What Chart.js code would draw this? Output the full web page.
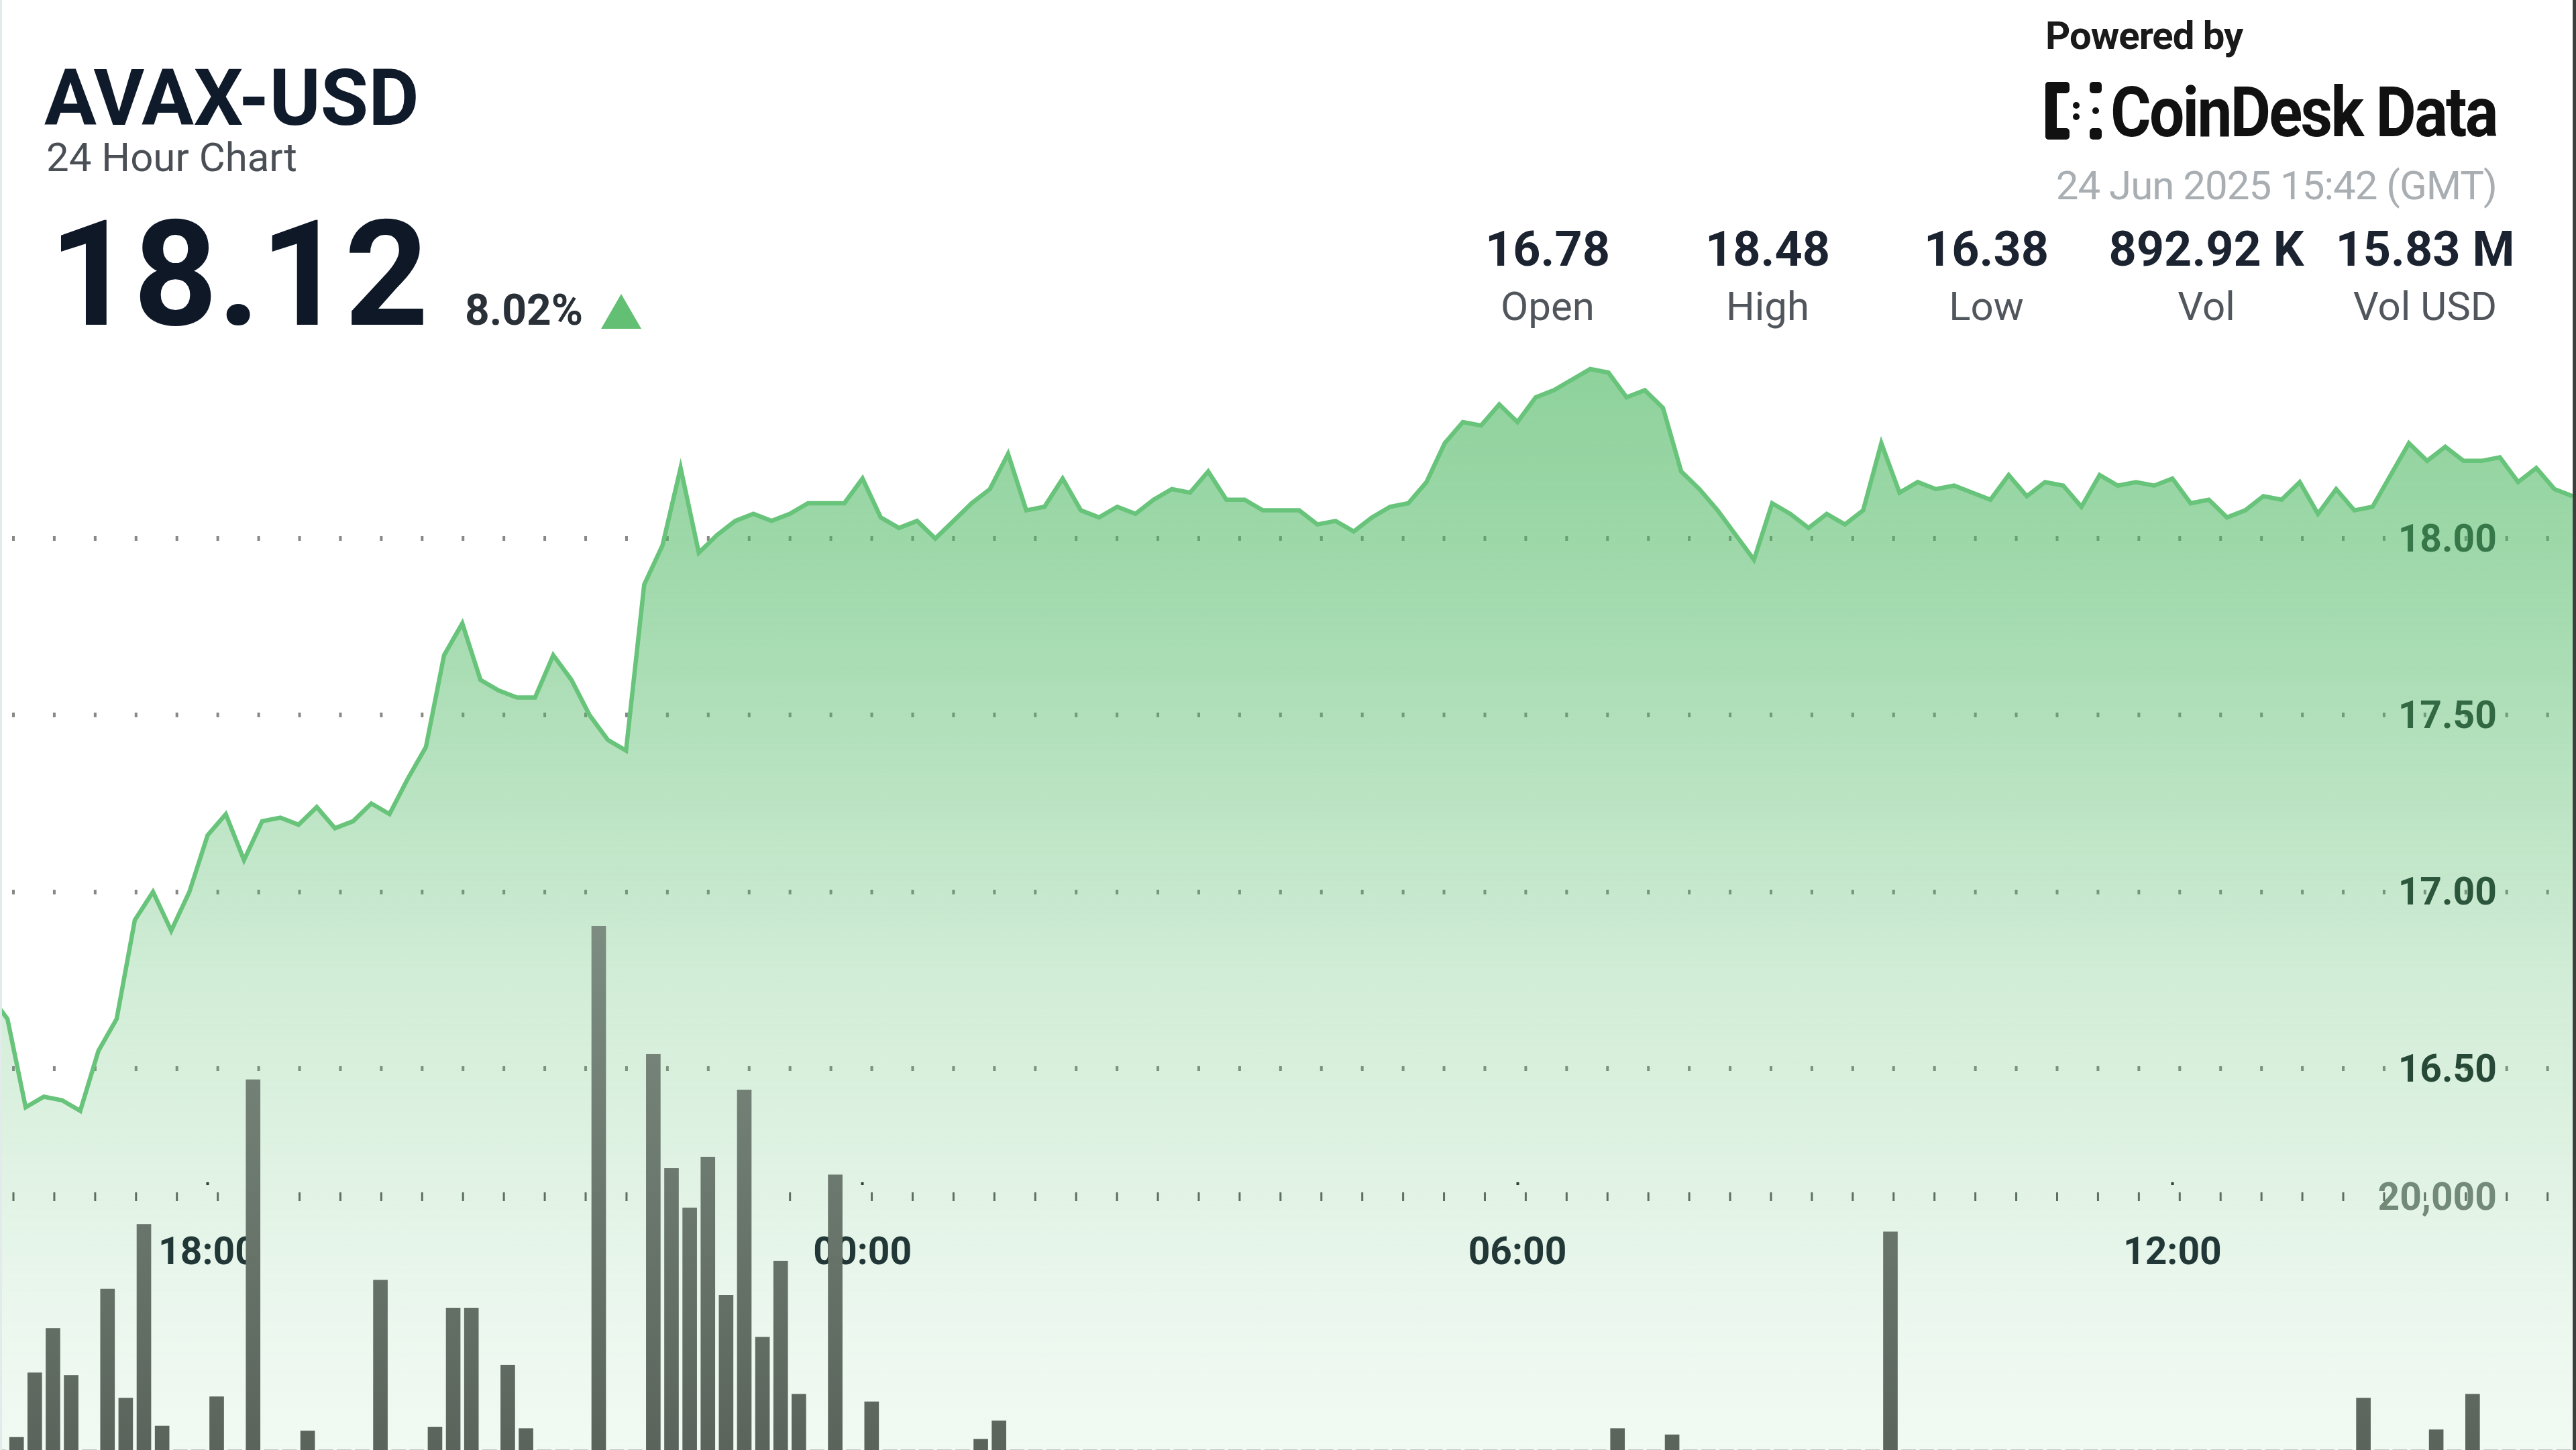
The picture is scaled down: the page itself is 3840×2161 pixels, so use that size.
<!DOCTYPE html>
<html>
<head>
<meta charset="utf-8">
<script src="https://cdn.jsdelivr.net/npm/chart.js@4.4.1/dist/chart.umd.min.js"></script>
<style>
html,body{margin:0;padding:0;background:#fff;width:3840px;height:2161px;overflow:hidden;font-family:Roboto,"Open Sans",sans-serif;}
#lb{position:absolute;left:0;top:0;width:3px;height:2161px;background:#e2eaec;}
#rb{position:absolute;left:3835px;top:0;width:5px;height:2161px;background:#3b3f3d;}
#cwrap{position:absolute;left:3px;top:0;width:3832px;height:2161px;}
.t{position:absolute;white-space:nowrap;line-height:1;}
.sv{position:absolute;width:400px;text-align:center;white-space:nowrap;line-height:1;font-weight:700;font-size:72px;color:#1c2330;}
.sl{position:absolute;width:400px;text-align:center;white-space:nowrap;line-height:1;font-weight:400;font-size:60px;color:#50565c;}
</style>
</head>
<body>
<div id="cwrap"><canvas id="c"></canvas></div>
<div id="lb"></div>
<div id="rb"></div>

<div class="t" style="left:66px;top:88px;font-size:116px;font-weight:700;color:#0f1b2b;">AVAX-USD</div>
<div class="t" style="left:69px;top:205px;font-size:60px;font-weight:400;color:#4a4f55;">24 Hour Chart</div>
<div class="t" style="left:73px;top:300px;font-size:219px;font-weight:700;color:#0e1826;">18.12</div>
<div class="t" style="left:693px;top:431px;font-size:64px;font-weight:700;color:#2a3038;">8.02%</div>
<div style="position:absolute;left:896px;top:438px;width:0;height:0;border-left:30px solid transparent;border-right:30px solid transparent;border-bottom:52px solid #63bf73;"></div>

<div class="t" style="left:3049px;top:24px;font-size:58px;font-weight:700;color:#1a1a1a;letter-spacing:-1px;">Powered by</div>
<svg style="position:absolute;left:3049px;top:122px;" width="86" height="86" viewBox="0 0 86 86">
  <g fill="#111">
    <rect x="0" y="0" width="17" height="86" rx="5"/>
    <rect x="0" y="0" width="36" height="17" rx="5"/>
    <rect x="0" y="69" width="36" height="17" rx="5"/>
    <circle cx="46" cy="35" r="5"/>
    <circle cx="46" cy="52" r="5"/>
    <rect x="66" y="0" width="18" height="17" rx="5"/>
    <rect x="66" y="69" width="18" height="17" rx="5"/>
    <circle cx="75" cy="43" r="5"/>
  </g>
</svg>
<div class="t" style="right:118px;top:116px;font-size:103px;font-weight:700;color:#111;letter-spacing:-3px;transform:scaleX(0.9);transform-origin:right center;">CoinDesk Data</div>
<div class="t" style="right:118px;top:247px;font-size:60px;font-weight:400;color:#a9aeb2;letter-spacing:-1px;">24 Jun 2025 15:42 (GMT)</div>

<div id="stats"></div>

<script>
// ---------------- data ----------------
// 10-minute samples, first sample at 23 Jun 2025 15:40 GMT
// x values are minutes relative to 24 Jun 2025 00:00 GMT
const START_MINUTE = -500;
const STEP_MINUTES = 10;

const price = [
  16.78,16.75,16.71,16.64,16.39,16.42,16.41,16.38,16.55,16.64,
  16.92,17.00,16.89,17.00,17.16,17.22,17.09,17.20,17.21,17.19,
  17.24,17.18,17.20,17.25,17.22,17.32,17.41,17.67,17.76,17.60,
  17.57,17.55,17.55,17.67,17.60,17.50,17.43,17.40,17.87,17.98,
  18.20,17.96,18.01,18.05,18.07,18.05,18.07,18.10,18.10,18.10,
  18.17,18.06,18.03,18.05,18.00,18.05,18.10,18.14,18.24,18.08,
  18.09,18.17,18.08,18.06,18.09,18.07,18.11,18.14,18.13,18.19,
  18.11,18.11,18.08,18.08,18.08,18.04,18.05,18.02,18.06,18.09,
  18.10,18.16,18.27,18.33,18.32,18.38,18.33,18.40,18.42,18.45,
  18.48,18.47,18.40,18.42,18.37,18.19,18.14,18.08,18.01,17.94,
  18.10,18.07,18.03,18.07,18.04,18.08,18.27,18.13,18.16,18.14,
  18.15,18.13,18.11,18.18,18.12,18.16,18.15,18.09,18.18,18.15,
  18.16,18.15,18.17,18.10,18.11,18.06,18.08,18.12,18.11,18.16,
  18.07,18.14,18.08,18.09,18.18,18.27,18.22,18.26,18.22,18.22,
  18.23,18.16,18.20,18.14,18.12
];

const volume = [
  0,0,0,1000,6100,9600,5900,0,12700,4100,
  17800,1900,0,0,4200,0,29200,0,0,1500,
  0,0,0,13400,0,0,1800,11200,11200,0,
  6700,1700,0,0,0,41300,0,0,31200,22200,
  19100,23100,12200,28400,8900,14900,4400,0,21700,0,
  3800,0,0,0,0,0,850,2300,0,0,
  0,0,0,0,0,0,0,0,0,0,
  0,0,0,0,0,0,0,0,0,0,
  0,0,0,0,0,0,0,0,0,0,
  0,1700,0,0,1200,0,0,0,0,0,
  0,0,0,0,0,0,17200,0,0,0,
  0,0,0,0,0,0,0,0,0,0,
  0,0,0,0,0,0,0,0,0,0,
  0,0,4100,0,0,0,1600,0,4400,0,
  0,0,0,0,0
];

const xTickMinutes = [-360, 0, 360, 720];
const xTickLabels = ['18:00', '00:00', '06:00', '12:00'];
const priceTicks = [16.5, 17.0, 17.5, 18.0];
const volumeTicks = [20000];

const statValues = ['16.78', '18.48', '16.38', '892.92 K', '15.83 M'];
const statLabels = ['Open', 'High', 'Low', 'Vol', 'Vol USD'];
// ---------------------------------------

const statCenters = [2307, 2635, 2961, 3289, 3615];
const statsEl = document.getElementById('stats');
statValues.forEach((v, i) => {
  const a = document.createElement('div');
  a.className = 'sv'; a.style.left = (statCenters[i] - 200) + 'px'; a.style.top = '336px';
  a.textContent = v; statsEl.appendChild(a);
  const b = document.createElement('div');
  b.className = 'sl'; b.style.left = (statCenters[i] - 200) + 'px'; b.style.top = '427px';
  b.textContent = statLabels[i]; statsEl.appendChild(b);
});

const linePoints = price.map((v, k) => ({x: START_MINUTE + STEP_MINUTES * k, y: v}));
const barPoints = volume.map((v, k) => ({x: START_MINUTE + STEP_MINUTES * k + STEP_MINUTES / 2, y: v}));

function fillGradient(context) {
  const chart = context.chart;
  if (!chart.chartArea) return 'rgba(76,183,97,0.3)';
  const g = chart.ctx.createLinearGradient(0, 540, 0, 2161);
  g.addColorStop(0.00, 'rgba(76,183,97,0.63)');
  g.addColorStop(0.16, 'rgba(76,183,97,0.55)');
  g.addColorStop(0.27, 'rgba(76,183,97,0.48)');
  g.addColorStop(0.574, 'rgba(76,183,97,0.25)');
  g.addColorStop(0.876, 'rgba(76,183,97,0.11)');
  g.addColorStop(1.00, 'rgba(76,183,97,0.08)');
  return g;
}
function barGradient(context) {
  const chart = context.chart;
  if (!chart.chartArea) return '#6c786e';
  const g = chart.ctx.createLinearGradient(0, 1350, 0, 2161);
  g.addColorStop(0, '#7e8e82');
  g.addColorStop(1, '#5a645b');
  return g;
}

const labelFont = {family: 'Roboto', weight: 700, size: 57};

function build() {
  Chart.defaults.font.family = 'Roboto';
  new Chart(document.getElementById('c'), {
    type: 'line',
    data: {
      datasets: [
        {
          type: 'bar',
          label: 'Volume',
          data: barPoints,
          yAxisID: 'yVol',
          xAxisID: 'x',
          backgroundColor: barGradient,
          borderWidth: 0,
          barThickness: 21,
          order: 0
        },
        {
          type: 'line',
          label: 'AVAX-USD',
          data: linePoints,
          yAxisID: 'y',
          xAxisID: 'x',
          borderColor: 'rgb(104,196,122)',
          borderWidth: 6.5,
          pointRadius: 0,
          tension: 0,
          fill: 'start',
          backgroundColor: fillGradient,
          order: 1
        }
      ]
    },
    options: {
      responsive: true,
      maintainAspectRatio: false,
      animation: false,
      devicePixelRatio: 1,
      layout: {padding: 0},
      plugins: {legend: {display: false}, tooltip: {enabled: false}},
      scales: {
        x: {
          type: 'linear',
          min: -473,
          max: 940,
          offset: false,
          z: 2,
          position: {y: 16.178},
          afterBuildTicks: s => { s.ticks = xTickMinutes.map(v => ({value: v})); },
          ticks: {
            autoSkip: false, maxRotation: 0, minRotation: 0,
            padding: 70,
            color: '#1b2330',
            font: labelFont,
            callback: v => xTickLabels[xTickMinutes.indexOf(v)]
          },
          grid: {offset: false, drawOnChartArea: false, drawTicks: true, tickLength: 4, tickWidth: 4, tickColor: '#2a2a2a'},
          border: {display: false}
        },
        y: {
          type: 'linear',
          position: 'right',
          min: 15.4199,
          max: 19.5247,
          z: 1,
          afterBuildTicks: s => { s.ticks = priceTicks.map(v => ({value: v})); },
          afterFit: s => { s.width = 0; },
          ticks: {mirror: true, padding: -113, labelOffset: 5, color: '#1d2a2c', font: labelFont, callback: v => Number(v).toFixed(2)},
          grid: {color: 'rgba(85,85,85,0.7)', lineWidth: 7, drawTicks: false},
          border: {display: false, dash: [4, 56.93], dashOffset: 45.93}
        },
        yVol: {
          type: 'linear',
          position: 'right',
          min: 0,
          max: 114340,
          afterBuildTicks: s => { s.ticks = volumeTicks.map(v => ({value: v})); },
          afterFit: s => { s.width = 0; },
          ticks: {mirror: true, padding: -113, labelOffset: 6, color: '#7b817d', font: labelFont, callback: v => Number(v).toLocaleString('en-US')},
          grid: {color: 'rgba(55,60,55,0.8)', lineWidth: 13, drawTicks: false},
          border: {display: false, dash: [3, 57.93], dashOffset: 45.43}
        }
      }
    }
  });
}

if (document.fonts && document.fonts.load) {
  Promise.all([
    document.fonts.load('700 57px Roboto'),
    document.fonts.load('400 60px Roboto')
  ]).then(build, build);
} else {
  build();
}
</script>
</body>
</html>
